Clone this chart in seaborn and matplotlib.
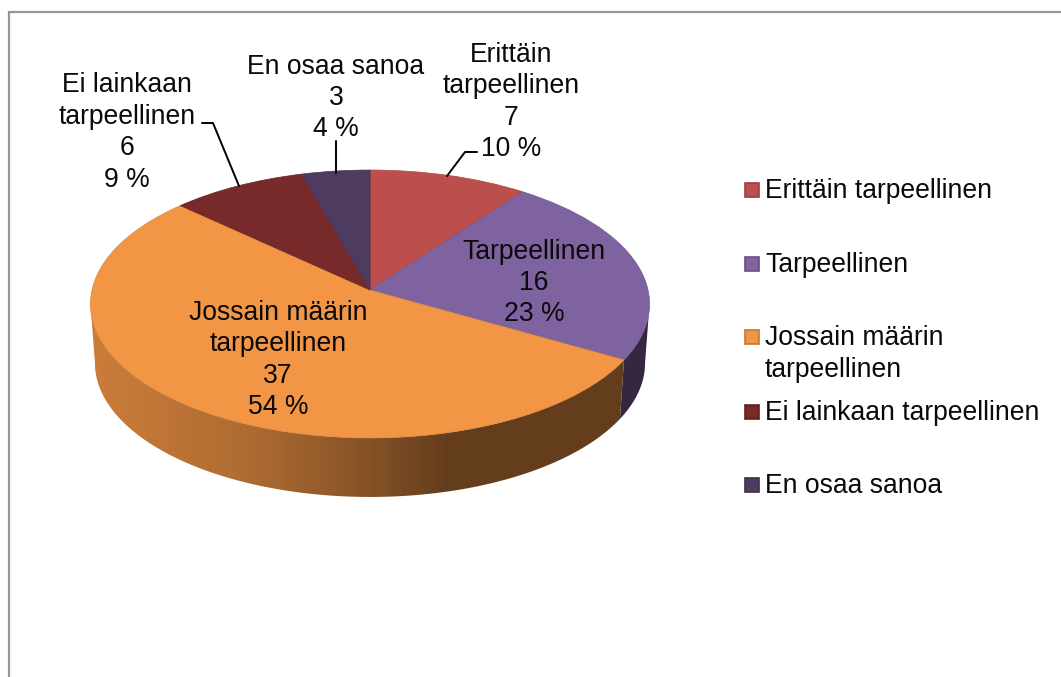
import numpy as np
import matplotlib
matplotlib.use("Agg")
import matplotlib.pyplot as plt
from matplotlib.patches import Polygon, Rectangle
from matplotlib.transforms import Transform
import seaborn as sns

# data
categories = ["Erittäin tarpeellinen", "Tarpeellinen", "Jossain määrin tarpeellinen",
              "Ei lainkaan tarpeellinen", "En osaa sanoa"]
label_names = ["Erittäin\ntarpeellinen", "Tarpeellinen", "Jossain määrin\ntarpeellinen",
               "Ei lainkaan\ntarpeellinen", "En osaa sanoa"]
legend_names = ["Erittäin tarpeellinen", "Tarpeellinen", "Jossain määrin\ntarpeellinen",
                "Ei lainkaan tarpeellinen", "En osaa sanoa"]
values = [7, 16, 37, 6, 3]
percents = [10, 23, 54, 9, 4]
colors = ["#BC4F4C", "#7F62A0", "#F29545", "#772A29", "#4D3B60"]

# layout, pixels of the picture
W, H = 1061, 677
APEX_X, APEX_Y = 370, 290
SCALE_X, SCALE_Y, TILT = 278, 132.5, 0.1045
DEPTH, BOTTOM_SHRINK = 59, 0.984
FONT_SIZE = 19.1
LINE_SPACING = 1.27
LABEL_POS = [(511, 102), (534, 283), (278, 360), (127, 132.5), (336, 98)]
LEADERS = [[(477, 152), (465, 152), (447, 176)],
           [(202, 123), (213, 123), (239, 186)],
           [(336, 141), (336, 173)]]
LEGEND_Y = [191, 265, 354, 413, 486]
BORDER = "#969696"
TEXT = "#0a0a0a"


def project(points):
    # tilted disc: far side of the pie comes out flatter than the near side
    points = np.asarray(points, dtype=float)
    w = 1 + TILT * points[..., 1]
    return np.stack([APEX_X + SCALE_X * points[..., 0] / w,
                     APEX_Y - SCALE_Y * points[..., 1] / w], axis=-1)


class TiltTransform(Transform):
    input_dims = 2
    output_dims = 2
    is_affine = False

    def transform_non_affine(self, values):
        return project(values)


def wall_shade(x):
    return np.interp(x, [90, 250, 370, 450, 650], [0.84, 0.72, 0.55, 0.41, 0.41])


def draw_wall(ax, start, end, color):
    # side of the pie, a horizontal gradient clipped to the shape of the rim
    base = np.array(matplotlib.colors.to_rgb(color))
    angles = np.radians(np.linspace(start, end, int(end - start) * 2 + 2))
    rim = project(np.column_stack([np.sin(angles), np.cos(angles)]))
    low = rim.copy()
    low[:, 0] = APEX_X + (rim[:, 0] - APEX_X) * BOTTOM_SHRINK
    low[:, 1] = rim[:, 1] + DEPTH
    outline = np.vstack([rim, low[::-1]])
    x0, x1 = outline[:, 0].min(), outline[:, 0].max()
    y0, y1 = outline[:, 1].min(), outline[:, 1].max()
    xs = np.linspace(x0, x1, 256)
    gradient = wall_shade(xs)[None, :, None] * base[None, None, :]
    shape = Polygon(outline, closed=True, facecolor="none", edgecolor="none",
                    transform=ax.transData)
    ax.add_patch(shape)
    image = ax.imshow(gradient, extent=(x0, x1, y1, y0), aspect="auto",
                      interpolation="bilinear", zorder=1)
    image.set_clip_path(shape)


def main():
    sns.set_theme(style="white")
    plt.rcParams["font.family"] = ["Liberation Sans", "DejaVu Sans"]
    palette = sns.color_palette(colors)

    fig = plt.figure(figsize=(W / 100, H / 100), dpi=100)
    ax = fig.add_axes([0, 0, 1, 1])

    wedges, _ = ax.pie(values, colors=palette, startangle=90, counterclock=False,
                       wedgeprops={"linewidth": 0.5, "zorder": 3})

    # only the near side of the rim shows, it runs between the two widest points
    side_a = np.degrees(np.arccos(-TILT))
    side_b = 360 - side_a
    stops = np.cumsum([0] + values) / sum(values) * 360
    for start, end, color in zip(stops[:-1], stops[1:], colors):
        start, end = max(start, side_a), min(end, side_b)
        if end > start:
            draw_wall(ax, start, end, color)

    ax.set_aspect("auto")
    ax.set_xlim(0, W)
    ax.set_ylim(H, 0)
    ax.axis("off")

    tilt = TiltTransform() + ax.transData
    for wedge, color in zip(wedges, palette):
        wedge.set_transform(tilt)
        wedge.set_edgecolor(tuple(np.array(color) * 0.9))

    for name, value, pct, (x, y) in zip(label_names, values, percents, LABEL_POS):
        ax.text(x, y, f"{name}\n{value}\n{pct} %", ha="center", va="center",
                fontsize=FONT_SIZE, linespacing=LINE_SPACING, color=TEXT, zorder=5)

    for line in LEADERS:
        xs, ys = zip(*line)
        ax.plot(xs, ys, color="black", linewidth=1.4, zorder=4)

    for name, color, y in zip(legend_names, palette, LEGEND_Y):
        if "\n" in name:
            box_y = y - 17
        else:
            box_y = y - 1
        ax.add_patch(Rectangle((745, box_y - 7), 14, 14, facecolor=color,
                               edgecolor=tuple(np.array(color) * 0.8), linewidth=1.2, zorder=3))
        ax.text(765, y, name, ha="left", va="center", fontsize=FONT_SIZE,
                linespacing=LINE_SPACING, color=TEXT)

    ax.plot([W, 8.5, 8.5], [11.5, 11.5, H], color=BORDER, linewidth=1.6, zorder=2,
            solid_joinstyle="miter")

    fig.savefig("out.png", dpi=100, facecolor="white")
    plt.close(fig)


if __name__ == "__main__":
    main()
